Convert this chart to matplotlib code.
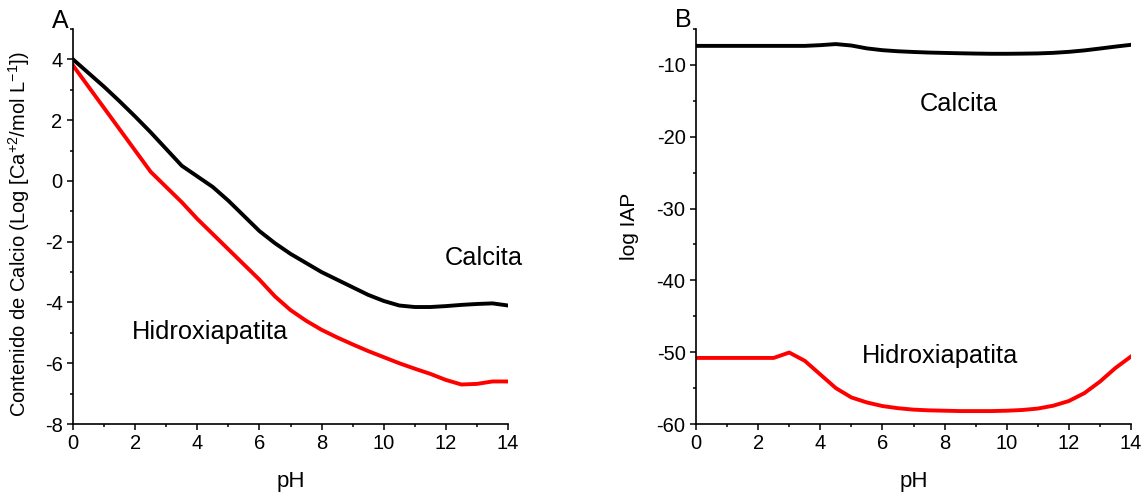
import matplotlib
matplotlib.use('Agg')
import matplotlib.pyplot as plt
from matplotlib.ticker import MultipleLocator

plt.rcParams['font.family'] = ['Liberation Sans', 'DejaVu Sans']
plt.rcParams['mathtext.fontset'] = 'custom'
plt.rcParams['mathtext.rm'] = 'Liberation Sans'
plt.rcParams['mathtext.it'] = 'Liberation Sans'
plt.rcParams['mathtext.bf'] = 'Liberation Sans'
plt.rcParams['axes.unicode_minus'] = False

ph = [0, 0.5, 1, 1.5, 2, 2.5, 3, 3.5, 4, 4.5, 5, 5.5, 6, 6.5, 7, 7.5,
      8, 8.5, 9, 9.5, 10, 10.5, 11, 11.5, 12, 12.5, 13, 13.5, 14]

calcita_a = [4.0, 3.55, 3.1, 2.62, 2.12, 1.6, 1.05, 0.5, 0.15, -0.2, -0.65,
             -1.15, -1.65, -2.05, -2.4, -2.7, -3.0, -3.25, -3.5, -3.75,
             -3.95, -4.1, -4.15, -4.15, -4.12, -4.08, -4.05, -4.03, -4.1]
hidroxi_a = [3.8, 3.1, 2.4, 1.7, 1.0, 0.3, -0.2, -0.7, -1.25, -1.75, -2.25,
             -2.75, -3.25, -3.8, -4.25, -4.6, -4.9, -5.15, -5.38, -5.6,
             -5.8, -6.0, -6.18, -6.35, -6.55, -6.7, -6.68, -6.6, -6.6]

calcita_b = [-7.35, -7.35, -7.35, -7.35, -7.35, -7.35, -7.35, -7.35, -7.25,
             -7.1, -7.3, -7.7, -7.95, -8.1, -8.2, -8.28, -8.33, -8.38, -8.42,
             -8.45, -8.45, -8.43, -8.4, -8.32, -8.18, -7.98, -7.72, -7.45, -7.2]
hidroxi_b = [-50.8, -50.8, -50.8, -50.8, -50.8, -50.8, -50.05, -51.2, -53.1,
             -55.0, -56.3, -57.0, -57.5, -57.8, -58.0, -58.1, -58.15, -58.2,
             -58.2, -58.2, -58.15, -58.05, -57.85, -57.45, -56.8, -55.7,
             -54.1, -52.2, -50.6]

W, H = 1146, 495
fig = plt.figure(figsize=(W / 100, H / 100), dpi=100)
axA = fig.add_axes([73 / W, (H - 424) / H, 435 / W, 395 / H])
axB = fig.add_axes([696 / W, (H - 424) / H, 435 / W, 395 / H])

lw = 2.8
axA.plot(ph, calcita_a, color='black', lw=lw)
axA.plot(ph, hidroxi_a, color='#ff0000', lw=lw)
axB.plot(ph, calcita_b, color='black', lw=lw)
axB.plot(ph, hidroxi_b, color='#ff0000', lw=lw)

tfs = 14.5
for ax in (axA, axB):
    ax.set_xlim(0, 14)
    ax.xaxis.set_major_locator(MultipleLocator(2))
    ax.xaxis.set_minor_locator(MultipleLocator(1))
    for s in ('top', 'right'):
        ax.spines[s].set_visible(False)
    for s in ('left', 'bottom'):
        ax.spines[s].set_linewidth(1.2)
    ax.tick_params(which='major', direction='out', length=4.5, width=1.1,
                   labelsize=tfs, pad=3)
    ax.tick_params(which='minor', direction='out', length=2.5, width=1.1)
    ax.set_xlabel('pH', fontsize=16)
    ax.xaxis.set_label_coords(0.5, -0.12)

axA.set_ylim(-8, 5)
axA.yaxis.set_major_locator(MultipleLocator(2))
axA.yaxis.set_minor_locator(MultipleLocator(1))
axA.set_ylabel('Contenido de Calcio (Log [Ca$^{+2}$/mol L$^{-1}$])', fontsize=14.5)
axA.yaxis.set_label_coords(-0.095, 0.48)

axB.set_ylim(-60, -5)
axB.yaxis.set_major_locator(MultipleLocator(10))
axB.yaxis.set_minor_locator(MultipleLocator(5))
axB.set_ylabel('log IAP', fontsize=15)
axB.yaxis.set_label_coords(-0.13, 0.5)

afs = 18.3
axA.text(11.97, -2.76, 'Calcita', fontsize=afs, ha='left', va='baseline')
axA.text(1.9, -5.2, 'Hidroxiapatita', fontsize=afs, ha='left', va='baseline')
axB.text(7.2, -16.4, 'Calcita', fontsize=afs, ha='left', va='baseline')
axB.text(5.34, -51.5, 'Hidroxiapatita', fontsize=afs, ha='left', va='baseline')

fig.text(52 / W, 1 - 28 / H, 'A', fontsize=18, ha='left', va='baseline')
fig.text(675 / W, 1 - 27 / H, 'B', fontsize=18, ha='left', va='baseline')

fig.savefig('out.png', dpi=100)
